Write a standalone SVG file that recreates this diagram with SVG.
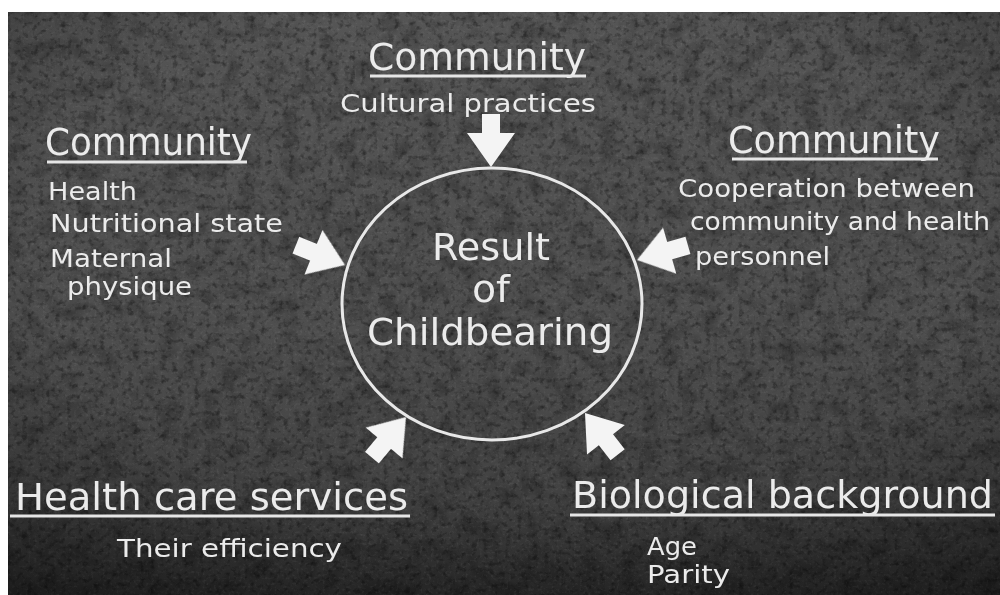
<svg xmlns="http://www.w3.org/2000/svg" width="1000" height="595" viewBox="0 0 1000 595">
  <style>
    .lbl { font-family: "DejaVu Sans", "Liberation Sans", sans-serif; fill: #ebebeb; font-weight: normal; }
    .head { font-size: 37px; }
    .sub { font-size: 25px; }
    .core { font-size: 38px; text-anchor: middle; }
    .rule { stroke: #e6e6e6; stroke-width: 3; }
    .ring { fill: none; stroke: #e8e8e8; stroke-width: 3; }
    .arrow { fill: #f4f4f4; }
  </style>
  <defs>
    <linearGradient id="board" x1="0" y1="0" x2="0" y2="1">
      <stop offset="0" stop-color="#555555"/>
      <stop offset="0.55" stop-color="#4e4e4e"/>
      <stop offset="0.82" stop-color="#424242"/>
      <stop offset="1" stop-color="#2a2a2a"/>
    </linearGradient>
    <radialGradient id="vignette" cx="0.5" cy="0.42" r="0.75">
      <stop offset="0.62" stop-color="#000" stop-opacity="0"/>
      <stop offset="1" stop-color="#000" stop-opacity="0.3"/>
    </radialGradient>
    <filter id="blotches" x="0" y="0" width="100%" height="100%">
      <feTurbulence type="fractalNoise" baseFrequency="0.05" numOctaves="3" seed="5"/>
      <feColorMatrix type="matrix" values="0 0 0 0 0  0 0 0 0 0  0 0 0 0 0  1.8 0 0 0 -0.8"/>
    </filter>
    <filter id="darkGrain" x="0" y="0" width="100%" height="100%">
      <feTurbulence type="fractalNoise" baseFrequency="0.18" numOctaves="3" seed="11"/>
      <feColorMatrix type="matrix" values="0 0 0 0 0  0 0 0 0 0  0 0 0 0 0  2.6 0 0 0 -1.3"/>
    </filter>
    <filter id="lightGrain" x="0" y="0" width="100%" height="100%">
      <feTurbulence type="fractalNoise" baseFrequency="0.35" numOctaves="2" seed="3"/>
      <feColorMatrix type="matrix" values="0 0 0 0 1  0 0 0 0 1  0 0 0 0 1  0 2.0 0 0 -1.05"/>
    </filter>
    <filter id="soft"><feGaussianBlur stdDeviation="0.4"/></filter>
    <!-- block arrow pointing along +x with its tip at the origin -->
    <path id="blockArrow" d="M0,0 L-34,-24 L-34,-9 L-53,-9 L-53,9 L-34,9 L-34,24 Z"/>
  </defs>

  <!-- page margin -->
  <rect x="0" y="0" width="1000" height="595" fill="#ffffff"/>

  <!-- photographed board -->
  <g id="board-surface">
    <rect x="8" y="12" width="992" height="583" fill="url(#board)"/>
    <rect x="8" y="12" width="992" height="583" filter="url(#blotches)" opacity="0.35"/>
    <rect x="8" y="12" width="992" height="583" filter="url(#darkGrain)" opacity="0.4"/>
    <rect x="8" y="12" width="992" height="583" filter="url(#lightGrain)" opacity="0.1"/>
    <rect x="8" y="12" width="992" height="583" fill="url(#vignette)"/>
  </g>

  <g filter="url(#soft)">
    <!-- connectors: block arrows into the central outcome -->
    <g id="connectors">
      <use href="#blockArrow" class="arrow" transform="translate(491,167) rotate(90)"/>
      <use href="#blockArrow" class="arrow" transform="translate(345,265) rotate(22)"/>
      <use href="#blockArrow" class="arrow" transform="translate(637,260) rotate(164)"/>
      <use href="#blockArrow" class="arrow" transform="translate(406,417) rotate(-50)"/>
      <use href="#blockArrow" class="arrow" transform="translate(585,413) rotate(-128)"/>
    </g>

    <g id="outcome">
      <ellipse class="ring" cx="492" cy="304" rx="150" ry="136"/>
      <text class="lbl core" x="491" y="260" textLength="118" lengthAdjust="spacingAndGlyphs">Result</text>
      <text class="lbl core" x="491" y="302" textLength="38" lengthAdjust="spacingAndGlyphs">of</text>
      <text class="lbl core" x="490" y="345" textLength="246" lengthAdjust="spacingAndGlyphs">Childbearing</text>
    </g>

    <g id="community-culture">
      <text class="lbl head" x="368" y="70" textLength="218" lengthAdjust="spacingAndGlyphs">Community</text>
      <line class="rule" x1="370" y1="76" x2="586" y2="76"/>
      <text class="lbl sub" x="340" y="112" textLength="256" lengthAdjust="spacingAndGlyphs">Cultural practices</text>
    </g>

    <g id="community-health">
      <text class="lbl head" x="45" y="155" textLength="207" lengthAdjust="spacingAndGlyphs">Community</text>
      <line class="rule" x1="47" y1="162" x2="247" y2="162"/>
      <text class="lbl sub" x="48" y="200" textLength="89" lengthAdjust="spacingAndGlyphs">Health</text>
      <text class="lbl sub" x="50" y="232" textLength="233" lengthAdjust="spacingAndGlyphs">Nutritional  state</text>
      <text class="lbl sub" x="50" y="267" textLength="122" lengthAdjust="spacingAndGlyphs">Maternal</text>
      <text class="lbl sub" x="67" y="295" textLength="125" lengthAdjust="spacingAndGlyphs">physique</text>
    </g>

    <g id="community-cooperation">
      <text class="lbl head" x="728" y="153" textLength="212" lengthAdjust="spacingAndGlyphs">Community</text>
      <line class="rule" x1="732" y1="159" x2="938" y2="159"/>
      <text class="lbl sub" x="678" y="197" textLength="297" lengthAdjust="spacingAndGlyphs">Cooperation  between</text>
      <text class="lbl sub" x="690" y="230" textLength="300" lengthAdjust="spacingAndGlyphs">community and health</text>
      <text class="lbl sub" x="695" y="265" textLength="135" lengthAdjust="spacingAndGlyphs">personnel</text>
    </g>

    <g id="health-care-services">
      <text class="lbl head" x="15" y="510" textLength="393" lengthAdjust="spacingAndGlyphs">Health care  services</text>
      <line class="rule" x1="10" y1="516" x2="410" y2="516"/>
      <text class="lbl sub" x="117" y="557" textLength="225" lengthAdjust="spacingAndGlyphs">Their  efficiency</text>
    </g>

    <g id="biological-background">
      <text class="lbl head" x="572" y="508" textLength="421" lengthAdjust="spacingAndGlyphs">Biological  background</text>
      <line class="rule" x1="570" y1="515" x2="995" y2="515"/>
      <text class="lbl sub" x="647" y="555" textLength="50" lengthAdjust="spacingAndGlyphs">Age</text>
      <text class="lbl sub" x="647" y="583" textLength="83" lengthAdjust="spacingAndGlyphs">Parity</text>
    </g>
  </g>
</svg>
